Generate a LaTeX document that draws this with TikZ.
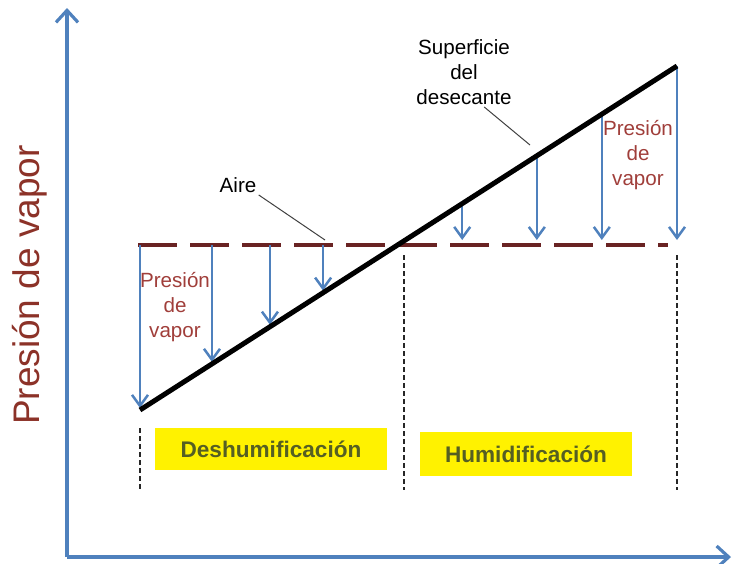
\documentclass[tikz,border=0pt]{standalone}
\usepackage{fontspec}
\setmainfont{Liberation Sans}
\usetikzlibrary{arrows.meta,calc}
\definecolor{axisblue}{RGB}{79,129,189}
\definecolor{dashbrown}{RGB}{105,35,35}
\definecolor{vaporred}{RGB}{160,62,58}
\definecolor{labelred}{RGB}{140,50,40}
\definecolor{boxtext}{RGB}{85,95,35}

\begin{document}
\begin{tikzpicture}[x=0.5pt, y=-0.5pt,
    axis/.style={line width=1.6pt, axisblue, -{Straight Barb[length=6pt,width=11pt]}},
    vap/.style={line width=1.25pt, axisblue, -{Straight Barb[length=5.5pt,width=8pt]}},
    leader/.style={line width=0.5pt, black!75},
    divider/.style={line width=0.6pt, black!85, dash pattern=on 2.5pt off 1.5pt},
    txt/.style={font=\fontsize{10.3}{12.5}\selectfont, align=center, inner sep=1pt},
    zone/.style={fill=yellow, text=boxtext, font=\fontsize{11.3}{13}\selectfont\bfseries, minimum height=21pt}]

    \useasboundingbox (0,0) rectangle (733,563);

    % ====== AXES ======
    \coordinate (origin) at (67,557);
    \coordinate (ytop) at (67,8);
    \coordinate (xend) at (731,557);
    \draw[axis] (origin) -- (ytop);
    \draw[axis] (origin) -- (xend);
    \node[rotate=90, text=labelred, font=\fontsize{18.5}{20}\selectfont] (ylab) at (30,285) {Presión de vapor};

    % ====== AIR LEVEL AND DESICCANT SURFACE ======
    \coordinate (lo) at (140,410);
    \coordinate (hi) at (677,66);
    \coordinate (dl) at (138,245);
    \coordinate (dr) at (668,245);
    \draw[dashbrown, line width=2pt, dash pattern=on 19.5pt off 6.5pt] (dl) -- (dr);

    % Vapour pressure arrows (air -> surface)
    \foreach \t/\n in {0/a,0.134/b,0.242/c,0.341/d} {
      \coordinate (p\n) at ($(lo)!\t!(hi)$);
      \draw[vap, shorten >=1pt] (p\n |- dl) -- (p\n);
    }

    % Vapour pressure arrows (surface -> air)
    \foreach \t/\n in {0.6/e,0.739/f,0.86/g,1/h} {
      \coordinate (p\n) at ($(lo)!\t!(hi)$);
      \draw[vap, shorten >=2.5pt] (p\n) -- (p\n |- dl);
    }

    % Desiccant surface
    \draw[line width=2.5pt] (lo) -- (hi);

    % Zone dividers
    \draw[divider] (140,428) -- (140,490);
    \draw[divider] (404,255) -- (404,490);
    \draw[divider] (677,255) -- (677,490);

    % ====== LABELS ======
    \node[txt] (aire) at (238,185) {Aire};
    \coordinate (airept) at (325,240);
    \draw[leader] (aire.south east) -- (airept);

    \node[txt] (sup) at (464,72) {Superficie\\del\\desecante};
    \coordinate (suppt) at (530,145);
    \draw[leader] (sup.-60) -- (suppt);

    \node[txt, text=vaporred] (vapl) at (175,307) {Presión\\de\\vapor};
    \node[txt, text=vaporred] (vapr) at (638,155) {Presión\\de\\vapor};

    % Zones
    \node[zone, minimum width=116pt] (deshum) at (271,449) {Deshumificación};
    \node[zone, minimum width=106pt, minimum height=22pt] (hum) at (526,454) {Humidificación};

  \end{tikzpicture}
\end{document}
